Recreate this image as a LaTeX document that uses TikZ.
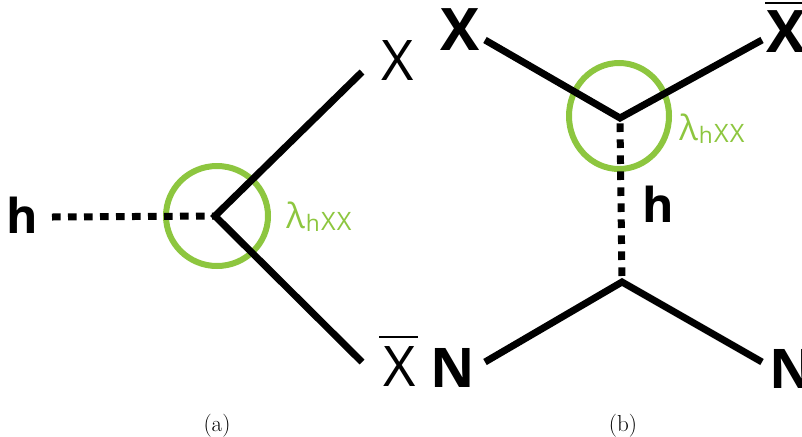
\documentclass[tikz,border=0pt]{standalone}
\usepackage{fontspec}
\newfontfamily\osans{Open Sans}
\usetikzlibrary{calc}
\definecolor{lgreen}{RGB}{141,198,63}
\begin{document}
\begin{tikzpicture}[x=0.75pt,y=-0.75pt,
  line/.style={line width=5.25pt},
  dline/.style={line width=5.25pt,dash pattern=on 6.5pt off 5.5pt},
  ring/.style={draw=lgreen,line width=4.5pt},
  thinlab/.style={inner sep=0pt,anchor=base,font=\osans\fontsize{42}{42}\selectfont},
  boldlab/.style={inner sep=0pt,anchor=base,font=\osans\bfseries\fontsize{44}{44}\selectfont},
  hlab/.style={inner sep=0pt,anchor=base,font=\osans\bfseries\fontsize{36}{36}\selectfont},
  coup/.style={inner sep=0pt,anchor=base west,text=lgreen,font=\osans},
  caplab/.style={inner sep=0pt,anchor=base,font=\fontsize{17.28}{20}\selectfont},
  bar/.style={line width=1.6pt}]
\useasboundingbox (0,0) rectangle (802,436);
\newcommand{\lhxx}{{\fontsize{26}{26}\selectfont λ}\hspace{0.8pt}\raisebox{-2.5pt}{\fontsize{17}{17}\selectfont h}\hspace{1pt}\raisebox{-1.5pt}{\fontsize{19}{19}\selectfont X\hspace{0.8pt}X}}
% ---------- (a) ----------
\coordinate (va) at (215,216);
\coordinate (ea1) at (362,72);
\coordinate (ea2) at (362,362);
\coordinate (ha) at (52,217);
\node[hlab] (hA) at (22,233) {h};
\node[thinlab] (Xa) at (398,80) {X};
\node[thinlab] (Xba) at (400,386) {X};
\draw[bar] (379,337) -- (418,337);
\draw[ring] (217,216) ellipse (51 and 50);
\draw[dline] (ha) -- (va);
\draw[line] (ea1) -- (va) -- (ea2);
\node[coup] (La) at (286,228) {\lhxx};
\node[caplab] (ca) at (217,431) {(a)};
% ---------- (b) ----------
\coordinate (vb1) at (620,118);
\coordinate (vb2) at (622,282);
\coordinate (eb1) at (485,40);
\coordinate (eb2) at (762,40);
\coordinate (eb3) at (485,362);
\coordinate (eb4) at (762,362);
\node[boldlab] (Xb) at (460,50) {X};
\node[boldlab] (Xbb) at (786,52) {X};
\draw[bar,line width=2.2pt] (765,3) -- (808,3);
\node[boldlab,font=\osans\bfseries\fontsize{41}{41}\selectfont] (Nb1) at (453,387) {N};
\node[boldlab,font=\osans\bfseries\fontsize{41}{41}\selectfont] (Nb2) at (792,388) {N};
\node[hlab] (hB) at (658,222) {h};
\draw[ring] (619,116) ellipse (50 and 53);
\draw[line] (eb1) -- (vb1) -- (eb2);
\draw[dline] ([yshift=-4]vb1) -- (vb2);
\draw[line] (eb3) -- (vb2) -- (eb4);
\node[coup] (Lb) at (679,140) {\lhxx};
\node[caplab] (cb) at (623,431) {(b)};
\end{tikzpicture}
\end{document}
